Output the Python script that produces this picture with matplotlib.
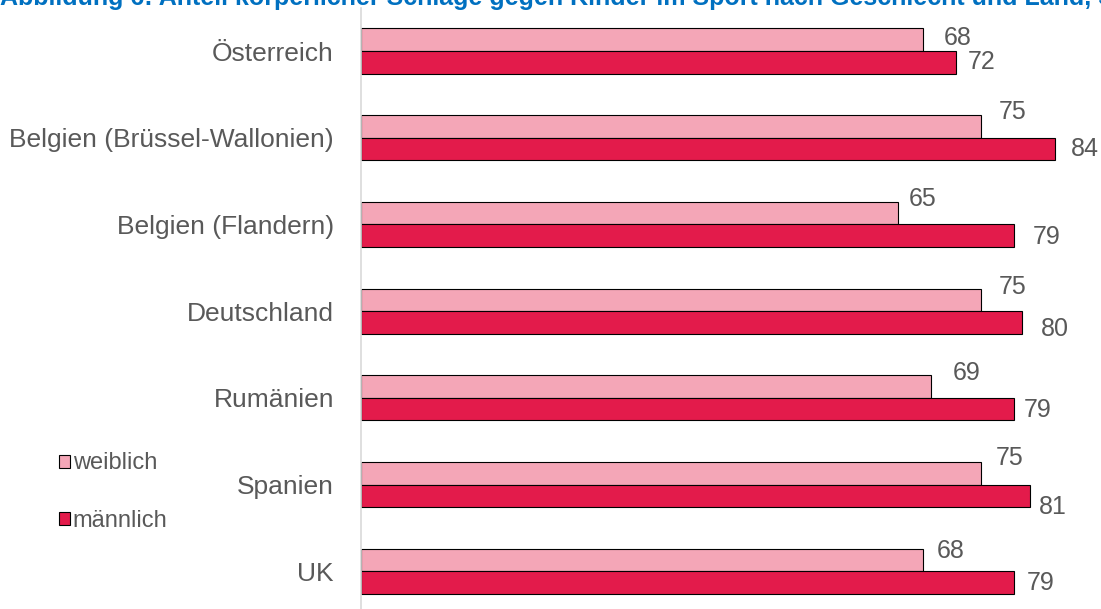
import numpy as np
import matplotlib
matplotlib.use("Agg")
import matplotlib.pyplot as plt
from matplotlib.patches import Patch

plt.rcParams['font.family'] = ['Liberation Sans', 'DejaVu Sans']

# data
countries = ['Österreich', 'Belgien (Brüssel-Wallonien)', 'Belgien (Flandern)',
             'Deutschland', 'Rumänien', 'Spanien', 'UK']
weiblich = [68, 75, 65, 75, 69, 75, 68]
maennlich = [72, 84, 79, 80, 79, 81, 79]

# hand-placed label offsets (pixels right / up of the bar end), like in the source
w_dx = [21, 18, 11, 18, 22, 15, 14]
w_dy = [2, 14, 14, 13, 14, 15, 9]
m_dx = [12, 16, 19, 19, 10, 9, 13]
m_dy = [0, 0, -1, -7, -1, -11, 0]

pink = '#F4A6B7'
red = '#E31B4B'
grey = '#595959'

fig = plt.figure(figsize=(11.01, 6.09), dpi=100)
ax = fig.add_axes([0.3279, -0.0092, 0.6754, 0.9966])

y = np.arange(len(countries))
h = 0.26
ax.barh(y - h / 2, weiblich, height=h, color=pink, edgecolor='black', linewidth=0.8)
ax.barh(y + h / 2, maennlich, height=h, color=red, edgecolor='black', linewidth=0.8)

ax.set_xlim(0, 90)
ax.set_ylim(len(countries) - 0.5, -0.5)
ax.set_yticks(y)
ax.set_yticklabels(countries, fontsize=19, color=grey)
ax.tick_params(axis='y', length=0, pad=19.5)
ax.set_xticks([])
for s in ['top', 'right', 'bottom']:
    ax.spines[s].set_visible(False)
ax.spines['left'].set_color('#D9D9D9')
ax.spines['left'].set_linewidth(1.2)

# value labels
for i in range(len(countries)):
    ax.annotate(str(weiblich[i]), (weiblich[i], y[i] - h / 2), xytext=(w_dx[i], w_dy[i]),
                textcoords='offset pixels', ha='left', va='center',
                fontsize=18, color=grey, annotation_clip=False)
    ax.annotate(str(maennlich[i]), (maennlich[i], y[i] + h / 2), xytext=(m_dx[i], m_dy[i]),
                textcoords='offset pixels', ha='left', va='center',
                fontsize=18, color=grey, annotation_clip=False)

handles = [Patch(facecolor=pink, edgecolor='black', linewidth=0.8),
           Patch(facecolor=red, edgecolor='black', linewidth=0.8)]
fig.legend(handles, ['weiblich', 'männlich'], loc='upper left',
           bbox_to_anchor=(0.034, 0.292), frameon=False, fontsize=17,
           labelcolor=grey, handlelength=0.47, handleheight=0.47,
           handletextpad=0.12, labelspacing=1.5)

# title, cut off at the top edge as in the reference
fig.text(0.0, 1.0 - 5 / 609, 'Abbildung 6: Anteil körperlicher Schläge gegen Kinder im Sport nach Geschlecht und Land, Sport in der Schule',
         fontsize=18, fontweight='bold', color='#0070C0', ha='left', va='baseline')

fig.savefig('out.png', dpi=100)
